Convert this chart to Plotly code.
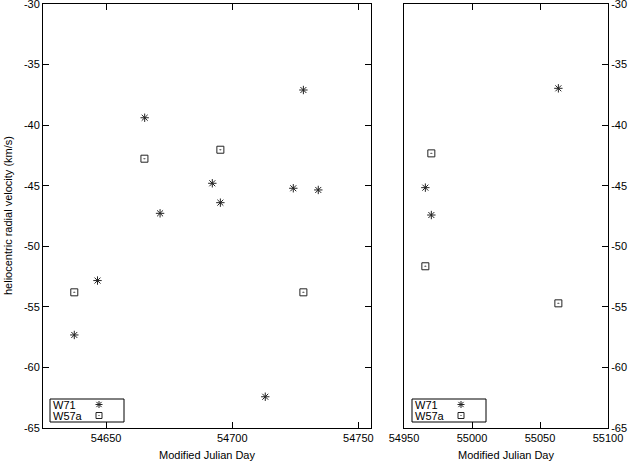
import plotly.graph_objects as go

# ---- data ----
w71_left_mjd = [54728.2, 54665.3, 54692.1, 54724.2, 54734.1, 54695.3, 54671.4, 54646.6, 54637.4, 54713.1]
w71_left_v = [-37.10, -39.39, -44.80, -45.21, -45.35, -46.40, -47.28, -52.83, -57.32, -62.42]
w57a_left_mjd = [54695.3, 54665.2, 54637.4, 54728.2]
w57a_left_v = [-42.03, -42.77, -53.80, -53.80]

w71_right_mjd = [55063.5, 54965.7, 54970.1]
w71_right_v = [-36.96, -45.16, -47.42]
w57a_right_mjd = [54970.1, 54965.7, 55063.5]
w57a_right_v = [-42.33, -51.65, -54.71]

series_names = ["W71", "W57a"]
y_tick_vals = [-30, -35, -40, -45, -50, -55, -60, -65]
y_tick_text = ["-30", "-35", "-40", "-45", "-50", "-55", "-60", "-65"]
x_left_ticks = [54650, 54700, 54750]
x_right_ticks = [54950, 55000, 55050, 55100]
x_title = "Modified Julian Day"
y_title = "heliocentric radial velocity (km/s)"

FONT = "Liberation Sans, Arial, Helvetica, sans-serif"
W, H = 631, 462
ML, MR, MT, MB = 43, 23, 4, 34
PW = W - ML - MR
PH = H - MT - MB


def px_x(p):
    return (p - ML) / PW


def px_y(p):
    return (H - MB - p) / PH


star = dict(symbol="asterisk-open", size=7, color="#222", line=dict(color="#222", width=1))
sq = dict(symbol="square-open-dot", size=7, color="#222", line=dict(color="#222", width=1))

fig = go.Figure()
fig.add_trace(go.Scatter(x=w71_left_mjd, y=w71_left_v, mode="markers", marker=star,
                         name=series_names[0], xaxis="x", yaxis="y", showlegend=False))
fig.add_trace(go.Scatter(x=w57a_left_mjd, y=w57a_left_v, mode="markers", marker=sq,
                         name=series_names[1], xaxis="x", yaxis="y", showlegend=False))
fig.add_trace(go.Scatter(x=w71_right_mjd, y=w71_right_v, mode="markers", marker=star,
                         name=series_names[0], xaxis="x2", yaxis="y2", showlegend=False))
fig.add_trace(go.Scatter(x=w57a_right_mjd, y=w57a_right_v, mode="markers", marker=sq,
                         name=series_names[1], xaxis="x2", yaxis="y2", showlegend=False))

axis_common = dict(showline=True, linecolor="black", linewidth=1, showgrid=False, zeroline=False,
                   ticks="inside", ticklen=6, tickwidth=1, tickcolor="black",
                   ticklabeloverflow="allow",
                   tickfont=dict(family=FONT, size=11, color="black"))

left_dom = [0, px_x(371)]
right_dom = [px_x(404), 1]

txt_font = dict(family=FONT, size=11, color="black")

# ---- gnuplot-style legends (text left, key symbol right) ----
shapes = []
annotations = []
ASTER_PATH = "M-3.5,0 L3.5,0 M0,-3.5 L0,3.5 M-2.6,-2.6 L2.6,2.6 M-2.6,2.6 L2.6,-2.6"
for box_x0, box_x1, key_x in [(50, 124, 99), (412, 486, 461)]:
    shapes.append(dict(type="rect", xref="paper", yref="paper",
                       x0=px_x(box_x0), x1=px_x(box_x1), y0=px_y(422), y1=px_y(399),
                       line=dict(color="black", width=1), fillcolor="white", layer="above"))
    for i, name in enumerate(series_names):
        row_y = 404.5 + 11 * i
        annotations.append(dict(text=name, xref="paper", yref="paper", x=px_x(box_x0 + 1),
                                y=px_y(row_y), xanchor="left", yanchor="middle",
                                showarrow=False, font=txt_font))
    shapes.append(dict(type="path", xref="paper", yref="paper", xsizemode="pixel",
                       ysizemode="pixel", xanchor=px_x(key_x), yanchor=px_y(404.5),
                       path=ASTER_PATH, line=dict(color="#222", width=1), layer="above"))
    shapes.append(dict(type="rect", xref="paper", yref="paper", xsizemode="pixel",
                       ysizemode="pixel", xanchor=px_x(key_x), yanchor=px_y(415.5),
                       x0=-3, x1=3, y0=-3, y1=3, line=dict(color="#222", width=1),
                       fillcolor="rgba(0,0,0,0)", layer="above"))
    shapes.append(dict(type="rect", xref="paper", yref="paper", xsizemode="pixel",
                       ysizemode="pixel", xanchor=px_x(key_x), yanchor=px_y(415.5),
                       x0=-0.5, x1=0.5, y0=-0.5, y1=0.5, line=dict(width=0),
                       fillcolor="#222", layer="above"))

annotations += [
    dict(text=x_title, xref="paper", yref="paper", x=(left_dom[0] + left_dom[1]) / 2,
         y=px_y(455), xanchor="center", yanchor="middle", showarrow=False, font=txt_font),
    dict(text=x_title, xref="paper", yref="paper", x=(right_dom[0] + right_dom[1]) / 2,
         y=px_y(455), xanchor="center", yanchor="middle", showarrow=False, font=txt_font),
    dict(text=y_title, xref="paper", yref="paper", x=px_x(8), y=px_y(216),
         xanchor="center", yanchor="middle", textangle=-90, showarrow=False, font=txt_font),
]

fig.update_layout(
    width=W, height=H,
    margin=dict(l=ML, r=MR, t=MT, b=MB, autoexpand=False),
    paper_bgcolor="white", plot_bgcolor="white",
    font=txt_font,
    showlegend=False,
    xaxis=dict(domain=left_dom, range=[54625, 54755], tickmode="array", tickvals=x_left_ticks,
               ticktext=[str(v) for v in x_left_ticks], mirror="ticks", anchor="y", **axis_common),
    yaxis=dict(domain=[0, 1], range=[-65, -30], tickmode="array", tickvals=y_tick_vals,
               ticktext=y_tick_text, mirror="ticks", anchor="x", **axis_common),
    xaxis2=dict(domain=right_dom, range=[54950, 55100], tickmode="array", tickvals=x_right_ticks,
                ticktext=[str(v) for v in x_right_ticks], mirror="ticks", anchor="y2", **axis_common),
    yaxis2=dict(domain=[0, 1], range=[-65, -30], tickmode="array", tickvals=y_tick_vals,
                ticktext=y_tick_text, mirror=True, side="right", anchor="x2", **axis_common),
    shapes=shapes,
    annotations=annotations,
)

fig.write_html("out.html", config={"displayModeBar": False},
               post_script="document.body.style.margin='0';document.body.style.overflow='hidden';")
